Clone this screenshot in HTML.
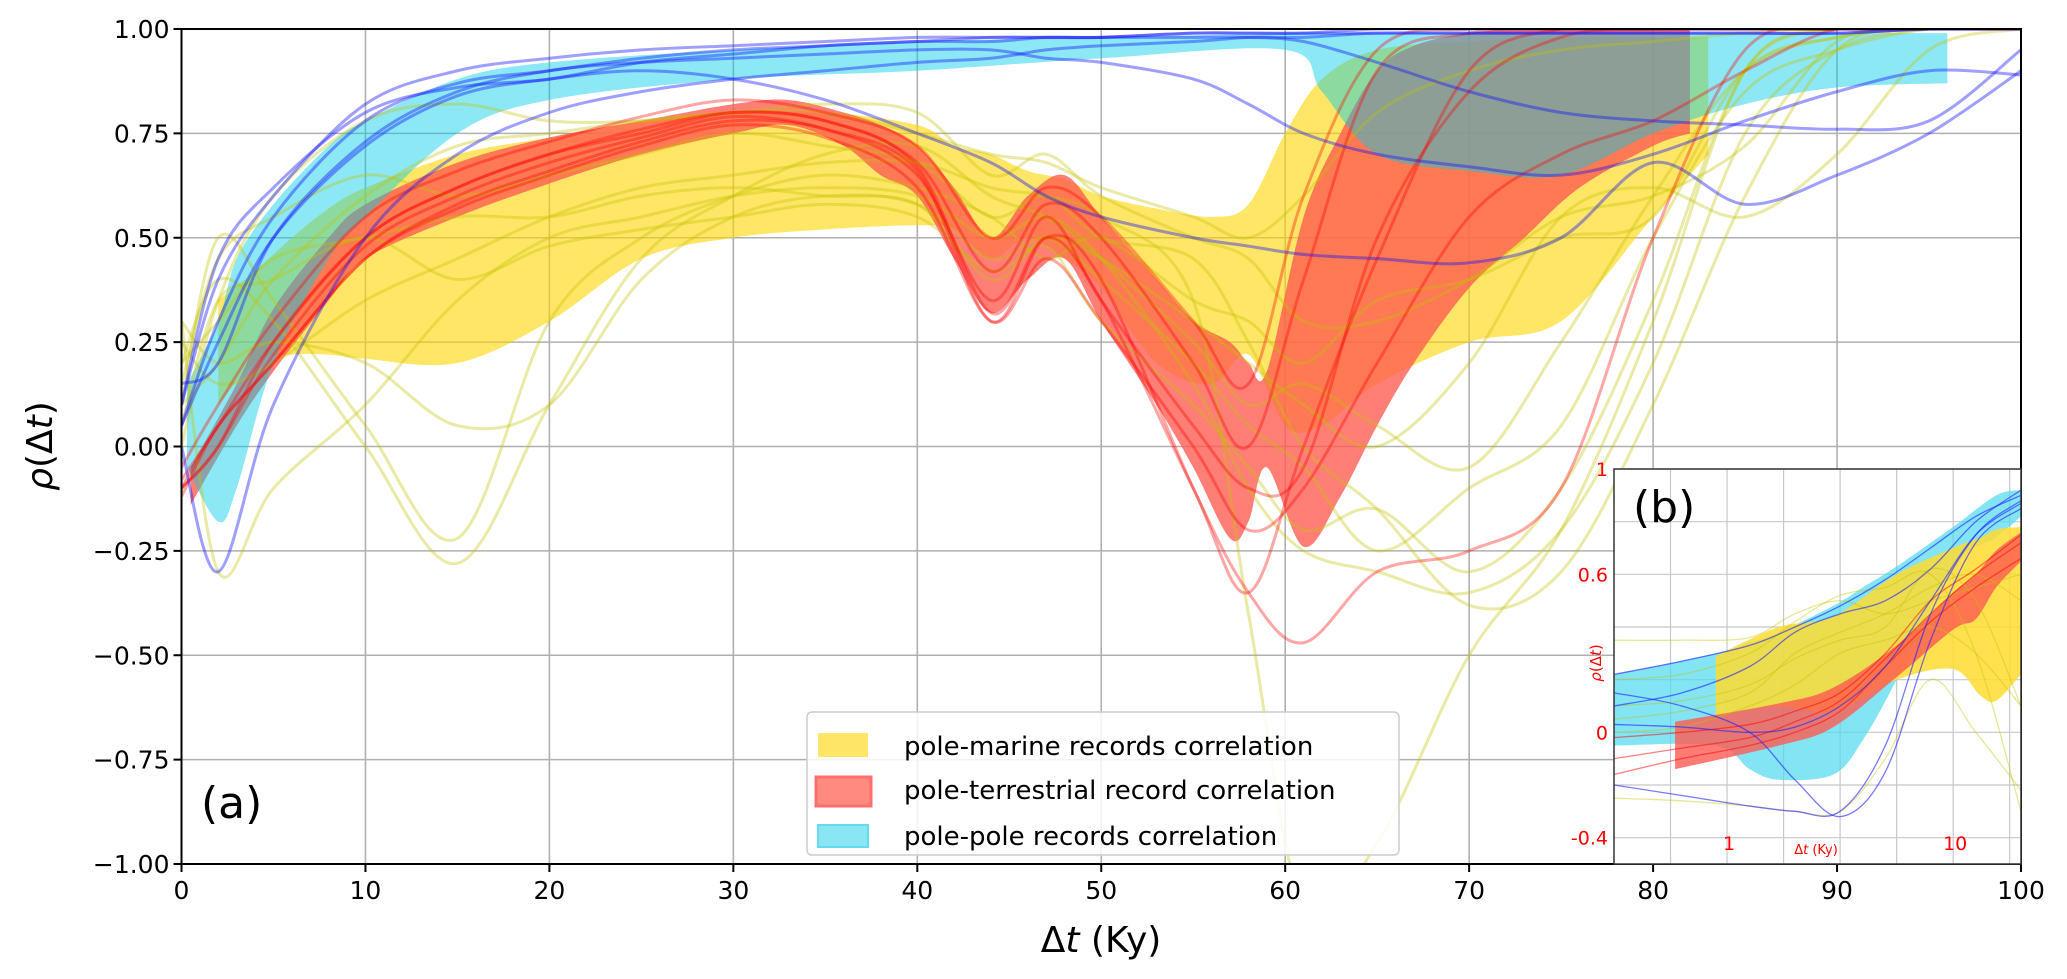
<!DOCTYPE html>
<html><head><meta charset="utf-8"><style>
html,body{margin:0;padding:0;background:#fff}
svg{display:block;font-family:"DejaVu Sans","Liberation Sans",sans-serif}
</style></head><body>
<svg id="chart" width="2067" height="979" viewBox="0 0 2067 979" xmlns="http://www.w3.org/2000/svg">
<defs>
<clipPath id="mainClip"><rect x="181.5" y="29" width="1839.5" height="835"/></clipPath>
<clipPath id="insetClip"><rect x="1614" y="469" width="407" height="395"/></clipPath>
</defs>
<g id="main"></g>
<g id="inset"></g>
<g id="legend">
<rect x="807" y="712" width="592" height="143" rx="5" fill="#fff" fill-opacity="0.85" stroke="#ccc" stroke-width="1.5"/>
<g><rect x="818" y="733" width="50" height="24" fill="#ffe566"/><text x="904" y="755" font-size="26" fill="#000">pole-marine records correlation</text></g>
<g><rect x="816" y="777" width="55" height="29" fill="#ff8a80" stroke="#ff6d6d" stroke-width="3"/><text x="904" y="799" font-size="26" fill="#000">pole-terrestrial record correlation</text></g>
<g><rect x="818" y="825" width="50" height="22" fill="#8ae6f2" stroke="#5fdcee" stroke-width="2"/><text x="904" y="845" font-size="26" fill="#000">pole-pole records correlation</text></g>
</g>
</svg>
<script>
// ---------- main chart data ----------
const xGrid = [0,2,5,10,15,20,25,30,35,40,44,47,50,55,58,61,65,70,75,80,85,90,95,100];
const yTicks = [1,0.75,0.5,0.25,0,-0.25,-0.5,-0.75,-1];
const yTickLabels = ["1.00","0.75","0.50","0.25","0.00","\u22120.25","\u22120.50","\u22120.75","\u22121.00"];
const xTicks = [0,10,20,30,40,50,60,70,80,90,100];

const yellowX = [2,4,6,8,10,15,20,25,30,35,40,42,44,46,48,50,53,56,58,60,62,65,70,75,80,83];
const yellowUpper = [0.35,0.42,0.5,0.57,0.62,0.7,0.74,0.78,0.8,0.8,0.77,0.72,0.7,0.66,0.64,0.6,0.57,0.55,0.58,0.75,0.88,0.95,0.97,0.98,0.98,0.98];
const yellowLower = [0.1,0.2,0.22,0.22,0.21,0.2,0.3,0.45,0.5,0.52,0.53,0.52,0.45,0.5,0.45,0.38,0.2,0.15,0.22,0.05,0.05,0.15,0.25,0.3,0.55,0.7];

const redX = [0.5,3,5,8,10,15,20,25,30,33,36,38,40,42,44,46,48,50,53,55,57,58,59,61,63,65,67,70,73,76,80,82];
const redUpper = [-0.05,0.15,0.33,0.5,0.58,0.68,0.74,0.78,0.82,0.83,0.8,0.77,0.72,0.62,0.5,0.6,0.65,0.55,0.4,0.3,0.25,0.2,0.18,0.55,0.75,0.9,0.96,0.99,1,1,1,1];
const redLower = [-0.14,0.05,0.18,0.35,0.45,0.55,0.63,0.7,0.75,0.77,0.72,0.65,0.6,0.45,0.32,0.4,0.45,0.3,0.1,-0.05,-0.22,-0.18,-0.05,-0.24,-0.12,0.05,0.2,0.38,0.5,0.62,0.72,0.75];

const cyanX = [0.3,2,3,5,8,10,15,20,30,40,50,60,62,65,70,75,80,85,90,96];
const cyanUpper = [0.15,0.3,0.45,0.58,0.72,0.78,0.88,0.92,0.95,0.97,0.98,0.99,0.99,0.99,0.99,0.99,0.99,0.99,0.99,0.99];
const cyanLower = [-0.05,-0.18,-0.1,0.2,0.45,0.55,0.75,0.83,0.88,0.9,0.93,0.95,0.85,0.7,0.66,0.65,0.75,0.82,0.86,0.87];

const blueLines = [
 [0.05,0.3,0.55,0.78,0.87,0.9,0.93,0.95,0.96,0.97,0.97,0.98,0.98,0.99,0.99,0.99,1,1,1,1,1,1,1,1],
 [0.1,0.45,0.62,0.8,0.86,0.88,0.92,0.94,0.96,0.97,0.98,0.98,0.98,0.99,0.99,0.99,0.99,0.99,0.99,0.99,0.99,0.99,1,1],
 [0.0,-0.3,0.1,0.5,0.7,0.8,0.85,0.88,0.9,0.92,0.93,0.95,0.96,0.97,0.98,0.98,0.99,0.99,0.99,0.99,0.99,0.99,1,1],
 [0.05,0.25,0.5,0.72,0.84,0.88,0.9,0.88,0.83,0.75,0.68,0.6,0.55,0.5,0.48,0.46,0.45,0.44,0.5,0.68,0.58,0.65,0.75,0.9],
 [0.1,0.4,0.6,0.82,0.9,0.93,0.95,0.96,0.97,0.98,0.98,0.98,0.98,0.98,0.98,0.97,0.92,0.85,0.8,0.78,0.77,0.76,0.78,0.95],
 [0.15,0.2,0.5,0.73,0.85,0.9,0.92,0.93,0.94,0.95,0.95,0.93,0.92,0.88,0.82,0.75,0.7,0.67,0.65,0.7,0.78,0.85,0.9,0.89]
];
const redLines = [
 [-0.1,0.0,0.25,0.5,0.62,0.7,0.76,0.8,0.78,0.68,0.42,0.58,0.5,0.2,0.0,0.4,0.9,0.99,1,1,1,1,1,1],
 [-0.12,0.05,0.2,0.45,0.58,0.66,0.73,0.78,0.76,0.65,0.35,0.55,0.35,0.05,-0.1,-0.05,0.5,0.85,0.98,1,1,1,1,1],
 [-0.05,0.1,0.3,0.55,0.66,0.73,0.79,0.83,0.8,0.72,0.5,0.62,0.55,0.3,0.15,0.6,0.95,1,1,1,1,1,1,1],
 [-0.1,0.0,0.22,0.48,0.6,0.68,0.74,0.79,0.76,0.66,0.3,0.5,0.4,-0.1,-0.35,-0.47,-0.3,-0.25,-0.1,0.5,0.95,1,1,1],
 [-0.08,0.05,0.25,0.5,0.62,0.7,0.75,0.8,0.78,0.67,0.32,0.5,0.35,-0.1,-0.35,0.0,0.45,0.9,1,1,1,1,1,1],
 [-0.1,0.05,0.2,0.45,0.57,0.65,0.72,0.77,0.74,0.62,0.3,0.45,0.3,0.0,-0.2,-0.1,0.2,0.55,0.7,0.78,0.9,1,1,1]
];
const yellowLines = [
 [0.1,0.5,0.35,0.05,-0.22,0.3,0.5,0.6,0.65,0.62,0.55,0.45,0.5,0.35,0.3,0.2,0.35,0.4,0.5,0.55,0.9,0.98,1,1],
 [0.2,0.4,0.3,0.0,-0.28,0.1,0.45,0.6,0.7,0.72,0.6,0.55,0.45,0.25,0.1,0.15,0.05,-0.05,0.25,0.6,0.9,0.98,1,1],
 [0.3,-0.3,-0.1,0.1,0.35,0.5,0.55,0.6,0.62,0.6,0.5,0.55,0.45,0.15,-0.1,-0.25,-0.3,-0.35,-0.2,0.2,0.75,0.95,1,1],
 [0.0,0.35,0.6,0.78,0.82,0.78,0.78,0.8,0.8,0.75,0.7,0.68,0.62,0.55,0.5,0.6,0.8,0.9,0.95,0.97,0.99,1,1,1],
 [0.25,0.15,0.2,0.35,0.45,0.55,0.62,0.65,0.68,0.68,0.62,0.6,0.55,0.35,-0.4,-1.1,-0.95,-0.5,-0.2,0.3,0.9,1,1,1],
 [0.3,0.2,0.25,0.2,0.05,0.1,0.4,0.55,0.6,0.58,0.45,0.5,0.4,0.2,0.05,-0.05,-0.25,-0.1,0.05,0.5,0.85,0.95,1,1],
 [0.15,0.45,0.55,0.65,0.6,0.65,0.7,0.75,0.72,0.68,0.55,0.6,0.5,0.45,0.25,0.0,-0.15,-0.38,-0.3,0.1,0.6,0.95,1,1],
 [0.2,0.3,0.45,0.5,0.55,0.55,0.6,0.62,0.6,0.58,0.4,0.5,0.45,0.3,0.2,0.1,0.0,0.2,0.55,0.62,0.55,0.7,0.95,1],
 [0.1,0.2,0.4,0.6,0.72,0.75,0.78,0.8,0.82,0.8,0.65,0.7,0.6,0.5,0.45,0.3,0.3,0.4,0.55,0.6,0.72,0.97,1,1],
 [0.05,0.35,0.4,0.5,0.4,0.48,0.52,0.55,0.58,0.55,0.42,0.48,0.3,0.1,-0.05,-0.2,-0.15,-0.3,-0.1,0.35,0.9,1,1,1]
];

// ---------- inset data (x in log10 Ky) ----------
const insetYTicks = [1,0.6,0,-0.4];
const insetYTickLabels = ["1","0.6","0","-0.4"];
const insetXTickVals = [1,10];
const insetXTickLabels = ["1","10"];
const inCyanL = [-0.5,-0.05,0.1,0.23,0.47,0.6,0.75,1.0,1.19,1.3];
const inCyanUpper = [0.22,0.3,0.34,0.38,0.48,0.55,0.63,0.78,0.9,0.92];
const inCyanLower = [-0.05,-0.05,-0.14,-0.18,-0.16,-0.03,0.2,0.63,0.74,0.82];
const inYellowL = [-0.05,0.23,0.47,0.75,1.0,1.12,1.19,1.3];
const inYellowUpper = [0.29,0.4,0.44,0.6,0.7,0.74,0.77,0.78];
const inYellowLower = [0.06,0.1,0.08,0.2,0.24,0.14,0.12,0.22];
const inRedL = [-0.23,0.23,0.47,0.75,1.0,1.1,1.19,1.3];
const inRedUpper = [0.04,0.11,0.17,0.33,0.53,0.6,0.69,0.76];
const inRedLower = [-0.14,-0.05,0.02,0.21,0.39,0.43,0.55,0.65];
const inLineL = [-0.5,-0.2,0.1,0.3,0.5,0.7,0.9,1.1,1.3];
const inBlueLines = [
 [0.22,0.27,0.33,0.4,0.48,0.58,0.7,0.82,0.9],
 [-0.2,-0.24,-0.28,-0.3,-0.3,-0.05,0.45,0.75,0.88],
 [0.03,0.02,0.0,0.02,0.1,0.25,0.5,0.75,0.87],
 [0.1,0.15,0.25,0.38,0.45,0.5,0.62,0.8,0.92],
 [0.15,0.1,0.0,-0.18,-0.32,-0.15,0.35,0.72,0.85]
];
const inYellowLines = [
 [0.35,0.35,0.36,0.45,0.5,0.45,0.5,0.55,0.6],
 [0.2,0.22,0.3,0.42,0.52,0.55,0.6,0.3,-0.3],
 [0.1,0.12,0.18,0.28,0.35,0.4,0.62,0.5,0.1],
 [-0.25,-0.26,-0.28,-0.3,-0.3,-0.1,0.2,0.0,-0.22],
 [0.05,0.08,0.15,0.3,0.38,0.45,0.55,0.6,0.5],
 [0.0,0.02,0.1,0.18,0.3,0.35,0.4,0.3,0.1]
];
const inRedLinesArr = [
 [-0.1,-0.06,-0.02,0.04,0.12,0.28,0.45,0.6,0.72],
 [-0.02,0.0,0.03,0.08,0.15,0.3,0.5,0.62,0.75],
 [-0.16,-0.1,-0.05,0.0,0.08,0.25,0.42,0.55,0.66]
];

// ---------- helpers ----------
const NS = "http://www.w3.org/2000/svg";
const X0=181.5, X1=2021, Y0=29, Y1=864;
const sx = v => X0 + (v/100)*(X1-X0);
const sy = v => Y1 - ((v+1)/2)*(Y1-Y0);
const IX0=1614, IX1=2021, IY0=469, IY1=864;
const isx = L => IX0 + (L+0.5)/1.8*(IX1-IX0);
const isy = v => IY1 - (v+0.5)/1.5*(IY1-IY0);
function mk(tag, attrs, parent){const e=document.createElementNS(NS,tag);for(const k in attrs)e.setAttribute(k,attrs[k]);parent.appendChild(e);return e;}
function smooth(pts){
  let d=`M${pts[0][0]},${pts[0][1]}`;
  for(let i=0;i<pts.length-1;i++){
    const p0=pts[Math.max(0,i-1)],p1=pts[i],p2=pts[i+1],p3=pts[Math.min(pts.length-1,i+2)];
    const c1=[p1[0]+(p2[0]-p0[0])/6,p1[1]+(p2[1]-p0[1])/6];
    const c2=[p2[0]-(p3[0]-p1[0])/6,p2[1]-(p3[1]-p1[1])/6];
    d+=` C${c1[0]},${c1[1]} ${c2[0]},${c2[1]} ${p2[0]},${p2[1]}`;
  }
  return d;
}
function bandPath(xs,up,lo,fx,fy){
  const top=xs.map((x,i)=>[fx(x),fy(up[i])]);
  const bot=xs.map((x,i)=>[fx(x),fy(lo[i])]).reverse();
  return smooth(top)+" L"+smooth(bot).slice(1)+" Z";
}

const main=document.getElementById('main');
const grid=mk('g',{},main);


xTicks.forEach(t=>mk('line',{x1:sx(t),x2:sx(t),y1:Y0,y2:Y1,stroke:'#b0b0b0','stroke-width':1.6},grid));
yTicks.forEach(t=>mk('line',{x1:X0,x2:X1,y1:sy(t),y2:sy(t),stroke:'#b0b0b0','stroke-width':1.6},grid));

const data=mk('g',{'clip-path':'url(#mainClip)'},main);


const yb=mk('path',{d:bandPath(yellowX,yellowUpper,yellowLower,sx,sy),fill:'#ffd500','fill-opacity':0.6},data);


const rb=mk('path',{d:bandPath(redX,redUpper,redLower,sx,sy),fill:'#ff5a50','fill-opacity':0.78},data);


const cb=mk('path',{d:bandPath(cyanX,cyanUpper,cyanLower,sx,sy),fill:'#00cbe6','fill-opacity':0.45},data);


yellowLines.forEach((s,k)=>{const p=mk('path',{d:smooth(xGrid.map((x,i)=>[sx(x),sy(s[i])])),fill:'none',stroke:'#c4c400','stroke-opacity':0.35,'stroke-width':3},data);

});
redLines.forEach((s,k)=>{const p=mk('path',{d:smooth(xGrid.map((x,i)=>[sx(x),sy(s[i])])),fill:'none',stroke:'#ff0000','stroke-opacity':0.35,'stroke-width':3},data);

});
blueLines.forEach((s,k)=>{const p=mk('path',{d:smooth(xGrid.map((x,i)=>[sx(x),sy(s[i])])),fill:'none',stroke:'#1010ff','stroke-opacity':0.4,'stroke-width':3},data);

});

mk('rect',{x:X0,y:Y0,width:X1-X0,height:Y1-Y0,fill:'none',stroke:'#000','stroke-width':2},main);
xTicks.forEach(t=>{mk('line',{x1:sx(t),x2:sx(t),y1:Y1,y2:Y1+8,stroke:'#000','stroke-width':2},main);
const tx=mk('text',{x:sx(t),y:Y1+35,'font-size':25,'text-anchor':'middle'},main);tx.textContent=t;

});
yTicks.forEach((t,i)=>{mk('line',{x1:X0-8,x2:X0,y1:sy(t),y2:sy(t),stroke:'#000','stroke-width':2},main);
const tx=mk('text',{x:X0-12,y:sy(t)+9,'font-size':25,'text-anchor':'end'},main);tx.textContent=yTickLabels[i];

});
const xt=mk('text',{x:1101,y:952,'font-size':36,'text-anchor':'middle'},main);
xt.innerHTML='\u0394<tspan font-style="italic">t</tspan> (Ky)';


const ytt=mk('text',{x:0,y:0,'font-size':36,'text-anchor':'middle',transform:`translate(52,446) rotate(-90)`},main);
ytt.innerHTML='<tspan font-style="italic">\u03c1</tspan>(\u0394<tspan font-style="italic">t</tspan>)';


const pa=mk('text',{x:201,y:818,'font-size':44},main);pa.textContent='(a)';



// ---------- inset ----------
const ins=document.getElementById('inset');
mk('rect',{x:IX0,y:IY0,width:IX1-IX0,height:IY1-IY0,fill:'#fff'},ins);
const ig=mk('g',{},ins);


for(let g=-0.25;g<1.3;g+=0.25){mk('line',{x1:isx(g),x2:isx(g),y1:IY0,y2:IY1,stroke:'#c8c8c8','stroke-width':1.2},ig);}
for(let v=-0.4;v<1.01;v+=0.2){mk('line',{x1:IX0,x2:IX1,y1:isy(v),y2:isy(v),stroke:'#c8c8c8','stroke-width':1.2},ig);}
const id=mk('g',{'clip-path':'url(#insetClip)'},ins);


const icb=mk('path',{d:bandPath(inCyanL,inCyanUpper,inCyanLower,isx,isy),fill:'#4fd9ee','fill-opacity':0.7},id);


const iyb=mk('path',{d:bandPath(inYellowL,inYellowUpper,inYellowLower,isx,isy),fill:'#ffdc30','fill-opacity':0.85},id);


const irb=mk('path',{d:bandPath(inRedL,inRedUpper,inRedLower,isx,isy),fill:'#ff5a50','fill-opacity':0.8},id);


inYellowLines.forEach((s,k)=>{const p=mk('path',{d:smooth(inLineL.map((x,i)=>[isx(x),isy(s[i])])),fill:'none',stroke:'#c4c400','stroke-opacity':0.4,'stroke-width':1.3},id);

});
inRedLinesArr.forEach((s,k)=>{const p=mk('path',{d:smooth(inLineL.map((x,i)=>[isx(x),isy(s[i])])),fill:'none',stroke:'#ff0000','stroke-opacity':0.5,'stroke-width':1.3},id);

});
inBlueLines.forEach((s,k)=>{const p=mk('path',{d:smooth(inLineL.map((x,i)=>[isx(x),isy(s[i])])),fill:'none',stroke:'#2020ff','stroke-opacity':0.6,'stroke-width':1.3},id);

});
mk('rect',{x:IX0,y:IY0,width:IX1-IX0,height:IY1-IY0,fill:'none',stroke:'#333','stroke-width':1.5},ins);
insetYTicks.forEach((t,i)=>{const tx=mk('text',{x:IX0-6,y:isy(t)+7,'font-size':19,'text-anchor':'end',fill:'#ff0000'},ins);tx.textContent=insetYTickLabels[i];

});
insetXTickVals.forEach((t,i)=>{const tx=mk('text',{x:isx(Math.log10(t))+2,y:IY1-14,'font-size':19,'text-anchor':'middle',fill:'#ff0000'},ins);tx.textContent=insetXTickLabels[i];

});
const ixt=mk('text',{x:1816,y:IY1-10,'font-size':13,'text-anchor':'middle',fill:'#ff0000'},ins);
ixt.innerHTML='\u0394<tspan font-style="italic">t</tspan> (Ky)';


const iyt=mk('text',{x:0,y:0,'font-size':15,'text-anchor':'middle',fill:'#ff0000',transform:'translate(1601,663) rotate(-90)'},ins);
iyt.innerHTML='<tspan font-style="italic">\u03c1</tspan>(\u0394<tspan font-style="italic">t</tspan>)';


const pb=mk('text',{x:1633,y:522,'font-size':44},ins);pb.textContent='(b)';


</script>
</body></html>
